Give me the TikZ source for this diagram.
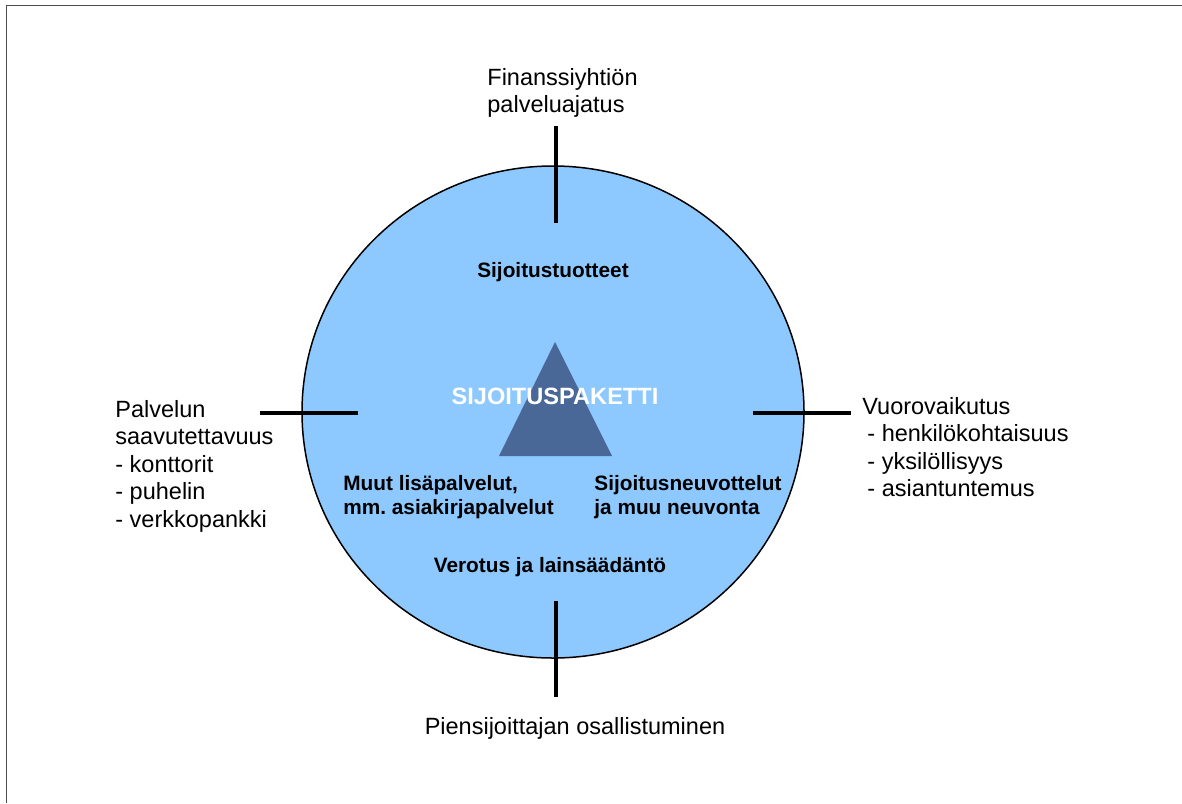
\documentclass[tikz,border=0pt]{standalone}
\usepackage{fontspec}
\setmainfont{Liberation Sans}
\usetikzlibrary{shapes.geometric}
\usetikzlibrary{positioning}
\frenchspacing
\definecolor{circle_blue}{HTML}{8DC8FE}
\definecolor{triangle_blue}{HTML}{4A6897}
\tikzstyle{package_circle} = [
    ellipse, 
    draw=black, 
    fill=circle_blue, 
    line width=0.75pt, 
    inner sep=0pt, 
    minimum width=251pt, 
    minimum height=246pt
]
\tikzstyle{tick} = [
    black, 
    line width=2pt
]
\tikzstyle{outer_label} = [
    font=\fontsize{11.75}{13.75}\selectfont, 
    align=left, 
    inner sep=0pt, 
    anchor=north west
]
\tikzstyle{inner_label} = [
    font=\bfseries\fontsize{10.4}{12}\selectfont, 
    align=left, 
    inner sep=0pt
]
\tikzstyle{frame_line} = [
    black!70, 
    line width=0.75pt
]

\begin{document}
\begin{tikzpicture}[x=0.5pt, y=-0.5pt]
\useasboundingbox (0,0) rectangle (1182,803);
\draw [frame_line] (6.5,803) -- (6.5,5.5) -- (1182,5.5);

% circle and triangle
\node [package_circle] (circle) at (553,412) {};
\coordinate (apex) at (555,342);
\coordinate (base_left) at (499,456);
\coordinate (base_right) at (612,456);
\fill [triangle_blue] (apex) -- (base_right) -- (base_left) -- cycle;

% ticks
\coordinate (top_out) at (556,126);
\coordinate (top_in) at (556,223);
\coordinate (bottom_in) at (556,601);
\coordinate (bottom_out) at (556,697);
\coordinate (left_out) at (260,413);
\coordinate (left_in) at (358,413);
\coordinate (right_in) at (753,413);
\coordinate (right_out) at (851,413);
\draw [tick] (top_out) -- (top_in);
\draw [tick] (bottom_in) -- (bottom_out);
\draw [tick] (left_out) -- (left_in);
\draw [tick] (right_in) -- (right_out);

% inside
\node [inner_label, anchor=base] (products) at (553,277) {Sijoitustuotteet};
\node [inner_label, anchor=base, white, font=\bfseries\fontsize{11.8}{13}\selectfont] (package) at (555,404) {SIJOITUSPAKETTI};
\node [inner_label, anchor=north west] (services) at (343,475) {Muut lis\"apalvelut,\\mm. asiakirjapalvelut};
\node [inner_label, anchor=north west] (advice) at (594,475) {Sijoitusneuvottelut\\ja muu neuvonta};
\node [inner_label, anchor=base] (taxation) at (550,572) {Verotus ja lains\"a\"ad\"ant\"o};

% outside
\node [outer_label] (idea) at (487,68) {Finanssiyhti\"on\\palveluajatus};
\node [outer_label] (access) at (115,400) {Palvelun\\saavutettavuus\\- konttorit\\- puhelin\\- verkkopankki};
\node [outer_label] (interaction) at (862,397) {Vuorovaikutus\\\hspace*{2.5pt}- henkil\"okohtaisuus\\\hspace*{2.5pt}- yksil\"ollisyys\\\hspace*{2.5pt}- asiantuntemus};
\node [outer_label, anchor=north] (participation) at (575,717) {Piensijoittajan osallistuminen};
\end{tikzpicture}
\end{document}
